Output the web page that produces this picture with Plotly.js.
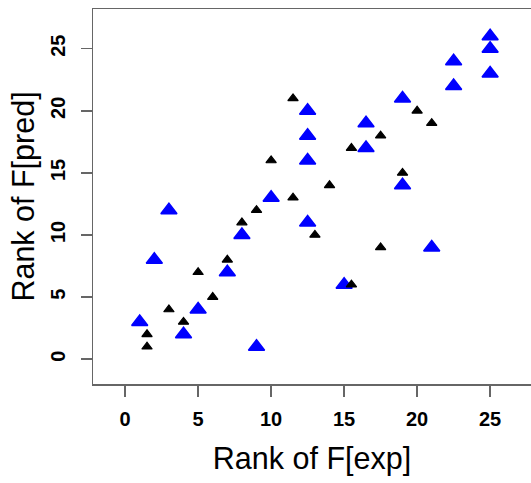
<!DOCTYPE html>
<html>
<head>
<meta charset="utf-8">
<script src="https://cdn.plot.ly/plotly-3.0.1.min.js"></script>
<style>
html, body { margin: 0; padding: 0; background: #fff; overflow: hidden; }
#chart { width: 531px; height: 483px; }
</style>
</head>
<body>
<div id="chart"></div>
<script>
// Blue series (rank pairs)
const blueX = [1, 2, 3, 4, 5, 7, 8, 9, 10, 12.5, 12.5, 12.5, 12.5, 15, 16.5, 16.5, 19, 19, 21, 22.5, 22.5, 25, 25, 25];
const blueY = [3, 8, 12, 2, 4, 7, 10, 1, 13, 20, 18, 16, 11, 6, 19, 17, 21, 14, 9, 24, 22, 26, 25, 23];
// Black series (rank pairs)
const blackX = [1.5, 1.5, 3, 4, 5, 6, 7, 8, 9, 10, 11.5, 11.5, 13, 14, 15.5, 15.5, 17.5, 17.5, 19, 20, 21];
const blackY = [1, 2, 4, 3, 7, 5, 8, 11, 12, 16, 21, 13, 10, 14, 17, 6, 18, 9, 15, 20, 19];
// Tick values
const tickVals = [0, 5, 10, 15, 20, 25];
const tickText = ["0", "5", "10", "15", "20", "25"];

const font = '"Liberation Sans", Arial, Helvetica, sans-serif';

const traces = [
  {
    x: blueX, y: blueY, type: 'scatter', mode: 'markers', name: 'blue',
    marker: { symbol: 'triangle-up', size: 14, color: '#0000FF', line: { color: '#0000FF', width: 1.5 } },
    hoverinfo: 'x+y'
  },
  {
    x: blackX, y: blackY, type: 'scatter', mode: 'markers', name: 'black',
    marker: { symbol: 'triangle-up', size: 9, color: '#000000', line: { color: '#000000', width: 1.2 } },
    hoverinfo: 'x+y'
  }
];

const axisCommon = {
  showgrid: false, zeroline: false, showline: true,
  linecolor: '#666', linewidth: 1.5,
  ticks: 'outside', ticklen: 11, tickwidth: 1.5, tickcolor: '#666',
  tickmode: 'array', tickvals: tickVals, ticktext: tickText,
  tickfont: { family: font, size: 20, color: '#000', weight: 'bold' },
  automargin: false
};

const layout = {
  width: 531, height: 483,
  margin: { l: 93, r: 0, t: 9, b: 99 },
  paper_bgcolor: '#fff', plot_bgcolor: '#fff',
  showlegend: false,
  font: { family: font, color: '#000' },
  xaxis: Object.assign({}, axisCommon, {
    range: [-2.2, 27.8], mirror: true,
    ticklabelstandoff: 5,
    title: { text: 'Rank of F[exp]', font: { family: font, size: 30.5, color: '#000' }, standoff: 19 }
  }),
  yaxis: Object.assign({}, axisCommon, {
    range: [-2.0, 28.2], mirror: false,
    tickangle: -90,
    ticklabelstandoff: 8,
    title: { text: 'Rank of F[pred]', font: { family: font, size: 30.5, color: '#000' }, standoff: 3 }
  })
};

Plotly.newPlot('chart', traces, layout, { displayModeBar: false, staticPlot: true });
</script>
</body>
</html>
